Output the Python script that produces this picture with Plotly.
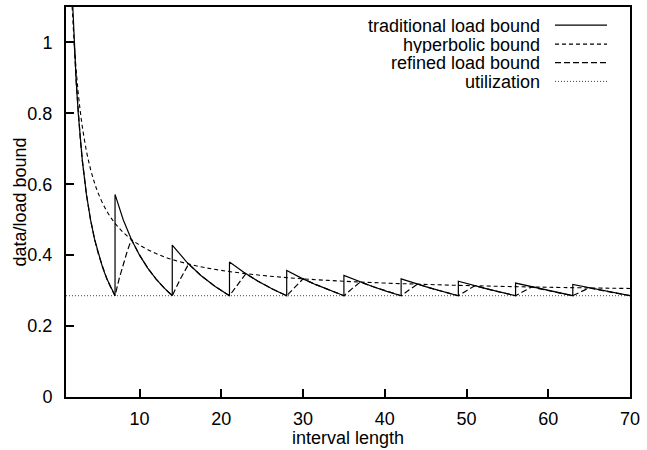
import plotly.graph_objects as go

# ---- data ----
trad_x = [1.75, 2, 2.25, 2.5, 2.75, 3, 3.5, 4, 4.5, 5, 5.5, 6, 6.5, 7,
          7, 8, 9, 10, 11, 12, 13, 14,
          14, 15.75, 17.5, 19.25, 21,
          21, 22.75, 24.5, 26.25, 28,
          28, 29.75, 31.5, 33.25, 35,
          35, 36.75, 38.5, 40.25, 42,
          42, 45.5, 49,
          49, 52.5, 56,
          56, 59.5, 63,
          63, 66.5, 70]
trad_y = [1.1429, 1.0, 0.8889, 0.8, 0.7273, 0.6667, 0.5714, 0.5, 0.4444, 0.4, 0.3636, 0.3333, 0.3077, 0.2857,
          0.5714, 0.5, 0.4444, 0.4, 0.3636, 0.3333, 0.3077, 0.2857,
          0.4286, 0.3810, 0.3429, 0.3117, 0.2857,
          0.3810, 0.3516, 0.3265, 0.3048, 0.2857,
          0.3571, 0.3361, 0.3175, 0.3008, 0.2857,
          0.3429, 0.3265, 0.3117, 0.2981, 0.2857,
          0.3333, 0.3077, 0.2857,
          0.3265, 0.3048, 0.2857,
          0.3214, 0.3025, 0.2857,
          0.3175, 0.3008, 0.2857]

hyper_x = [1.75, 2, 2.25, 2.5, 2.75, 3, 3.5, 4, 4.5, 5, 6, 7, 8, 9, 10, 12, 14, 17, 20,
           25, 30, 35, 40, 50, 60, 70]
hyper_y = [1.102, 1.0, 0.9206, 0.8571, 0.8052, 0.7619, 0.6939, 0.6429, 0.6032, 0.5714,
           0.5238, 0.4898, 0.4643, 0.4444, 0.4286, 0.4048, 0.3878, 0.3697, 0.3571,
           0.3429, 0.3333, 0.3265, 0.3214, 0.3143, 0.3095, 0.3061]

refined_x = [1, 2, 2.25, 2.5, 2.75, 3, 3.5, 4, 4.5, 5, 5.5, 6, 6.5, 7,
             7.5, 8, 8.5, 9, 10, 11, 12, 13, 14,
             15, 16, 17.5, 19.25, 21,
             22, 23, 24.5, 26.25, 28,
             29, 30, 31.5, 33.25, 35,
             36, 37, 38.5, 40.25, 42,
             43, 44, 46.5, 49,
             50, 51, 53.5, 56,
             57, 58, 60.5, 63,
             64, 65, 67.5, 70]
refined_y = [1, 1, 0.8889, 0.8, 0.7273, 0.6667, 0.5714, 0.5, 0.4444, 0.4, 0.3636, 0.3333, 0.3077, 0.2857,
             0.3333, 0.375, 0.4118, 0.4444, 0.4, 0.3636, 0.3333, 0.3077, 0.2857,
             0.3333, 0.375, 0.3429, 0.3117, 0.2857,
             0.3182, 0.3478, 0.3265, 0.3048, 0.2857,
             0.3103, 0.3333, 0.3175, 0.3008, 0.2857,
             0.3056, 0.3243, 0.3117, 0.2981, 0.2857,
             0.3023, 0.3182, 0.3011, 0.2857,
             0.3, 0.3137, 0.2991, 0.2857,
             0.2982, 0.3103, 0.2975, 0.2857,
             0.2969, 0.3077, 0.2963, 0.2857]

util_x = [1, 70]
util_y = [0.2857, 0.2857]

series_names = ["traditional load bound", "hyperbolic bound", "refined load bound", "utilization"]
x_ticks = [10, 20, 30, 40, 50, 60, 70]
x_ticklabels = ["10", "20", "30", "40", "50", "60", "70"]
y_ticks = [0, 0.2, 0.4, 0.6, 0.8, 1.0]
y_ticklabels = ["0", "0.2", "0.4", "0.6", "0.8", "1"]

FONT = "Liberation Sans, Arial, Helvetica, sans-serif"
FS = 18
styles = [
    dict(color="black", width=1.2, dash="solid"),
    dict(color="black", width=1.1, dash="4px,3px"),
    dict(color="black", width=1.2, dash="6px,3px"),
    dict(color="#444444", width=1.0, dash="1px,2px"),
]

fig = go.Figure()
fig.add_trace(go.Scatter(x=util_x, y=util_y, mode="lines", line=styles[3], name=series_names[3]))
fig.add_trace(go.Scatter(x=hyper_x, y=hyper_y, mode="lines", line=dict(**styles[1], shape="spline"),
                         name=series_names[1]))
fig.add_trace(go.Scatter(x=refined_x, y=refined_y, mode="lines", line=styles[2], name=series_names[2]))
fig.add_trace(go.Scatter(x=trad_x, y=trad_y, mode="lines", line=styles[0], name=series_names[0]))

# plot-area geometry (pixels)
L, R, T, B = 66, 17, 5, 53
W, H = 647, 450
pw, ph = W - L - R, H - T - B

def px_to_paper_x(px):
    return (px - L) / pw

def px_to_paper_y(py):
    return (H - B - py) / ph

# gnuplot-style legend: right-aligned text with line sample to the right
row_py = [23.3, 42.3, 61.0, 79.8]
annotations = []
shapes = []
for name, st, py in zip(series_names, styles, row_py):
    annotations.append(dict(text=name, xref="paper", yref="paper",
                            x=px_to_paper_x(542), y=px_to_paper_y(py + 0.5),
                            xanchor="right", yanchor="middle", showarrow=False,
                            height=16, valign="middle",
                            font=dict(family=FONT, size=FS, color="black")))
    shapes.append(dict(type="line", xref="paper", yref="paper",
                       x0=px_to_paper_x(555), x1=px_to_paper_x(607),
                       y0=px_to_paper_y(py), y1=px_to_paper_y(py),
                       line=dict(color=st["color"], width=st["width"], dash=st["dash"])))

# axis titles
annotations.append(dict(text="data/load bound", xref="paper", yref="paper", x=0, y=0.5,
                        xshift=-(L - 19.5), textangle=-90, xanchor="center", yanchor="middle",
                        showarrow=False, font=dict(family=FONT, size=FS, color="black")))
annotations.append(dict(text="interval length", xref="paper", yref="paper", x=0.5, y=0,
                        yshift=-41, xanchor="center", yanchor="middle",
                        showarrow=False, font=dict(family=FONT, size=FS, color="black")))

axis_common = dict(showgrid=False, zeroline=False, showline=True, linecolor="black", linewidth=2,
                   mirror=True, ticks="inside", ticklen=8, tickwidth=1.5, tickcolor="black",
                   tickfont=dict(family=FONT, size=FS, color="black"))

fig.update_layout(
    width=W, height=H,
    margin=dict(l=L, r=R, t=T, b=B, pad=0),
    paper_bgcolor="white", plot_bgcolor="white",
    showlegend=False,
    xaxis=dict(range=[1, 70], tickvals=x_ticks, ticktext=x_ticklabels, ticklabelstandoff=4,
               **axis_common),
    yaxis=dict(range=[0, 1.1], tickvals=y_ticks, ticktext=y_ticklabels, ticklabelstandoff=8,
               **axis_common),
    annotations=annotations,
    shapes=shapes,
)

fig.write_html("out.html")
